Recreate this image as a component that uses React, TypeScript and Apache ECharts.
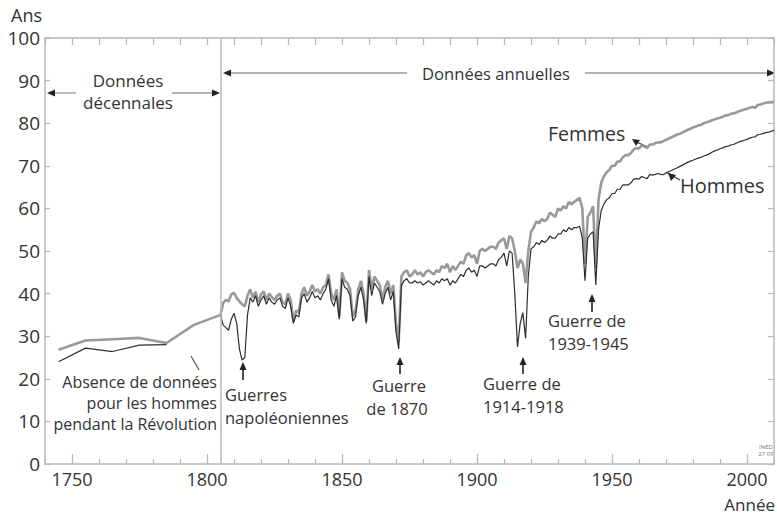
import React, { useEffect, useRef } from "react";
import * as echarts from "echarts";

const FONT = "'Open Sans', sans-serif";
const TXT = "#333";
const AXIS = "#b8b8b8";

// Decennial data (centre of each decade)
const decadeYears = [1745, 1755, 1765, 1775, 1785, 1795, 1805];
const femmesDecennial = [26.8, 29.0, 29.3, 29.6, 28.4, 32.6, 35.0];
const hommesDecennial = [24.0, 27.2, 26.4, 27.9, 28.0, null, 35.0];

// Annual data from 1806
const annualStart = 1806;
const femmesAnnual = [
  37.8, 38.5, 38.2, 39.8, 40.2, 39.0, 38.2, 37.5, 37.0, 39.5,
  41.0, 39.0, 40.5, 38.0, 39.8, 40.5, 38.5, 40.0, 39.2, 38.5,
  39.5, 40.0, 38.0, 37.5, 40.0, 38.5, 33.5, 36.0, 35.5, 40.0,
  41.5, 39.5, 40.5, 42.0, 40.5, 41.0, 40.0, 41.5, 42.0, 44.5,
  40.0, 38.5, 41.0, 34.5, 45.0, 43.0, 42.5, 41.0, 34.5, 36.0,
  41.0, 43.0, 40.0, 33.5, 45.5, 41.0, 44.0, 43.0, 42.0, 38.5,
  41.5, 43.0, 40.0, 42.0, 33.0, 28.5, 44.0, 45.0, 45.5, 44.0,
  44.5, 45.5, 44.5, 45.0, 44.0, 45.0, 45.5, 45.0, 44.5, 45.5,
  45.0, 46.5, 46.0, 47.0, 45.0, 46.5, 45.5, 46.5, 47.5, 47.0,
  49.0, 49.5, 48.5, 49.0, 47.0, 50.0, 50.5, 50.0, 50.5, 51.0,
  51.0, 50.5, 52.0, 52.5, 53.0, 50.5, 53.5, 53.0, 50.0, 46.0,
  48.0, 47.0, 42.5, 50.0, 54.5, 55.5, 57.0, 56.5, 57.5, 57.0,
  57.5, 59.0, 58.5, 58.0, 60.0, 59.5, 60.5, 60.0, 61.5, 61.0,
  61.5, 62.0, 62.5, 60.0, 47.0, 58.0, 59.0, 60.5, 46.0, 62.0,
  66.0, 67.5, 68.5, 69.0, 70.0, 70.0, 71.0, 71.0, 72.0, 72.5,
  72.5, 73.0, 73.8, 74.2, 74.0, 74.8, 74.5, 74.2, 75.0, 75.0,
  75.3, 75.5, 75.5, 75.8, 76.1, 76.4, 76.7, 77.0, 77.3, 77.5,
  77.8, 78.1, 78.4, 78.7, 79.0, 79.2, 79.5, 79.6, 80.0, 80.2,
  80.4, 80.7, 80.9, 81.1, 81.3, 81.5, 81.8, 81.9, 82.2, 82.3,
  82.5, 82.8, 83.0, 83.2, 83.4, 83.6, 83.8, 83.6, 84.3, 84.4,
  84.6, 84.8, 84.9, 84.9, 85.0,
];
const hommesAnnual = [
  32.6, 32.0, 31.4, 34.0, 35.4, 33.0, 27.0, 24.4, 25.0, 35.0,
  39.0, 38.0, 39.5, 37.0, 38.5, 39.5, 37.5, 39.0, 38.0, 37.5,
  38.5, 39.0, 37.0, 36.5, 39.0, 37.0, 33.0, 35.0, 34.5, 39.0,
  40.0, 38.0, 39.0, 40.5, 39.0, 39.5, 38.5, 40.0, 41.0, 43.5,
  38.5, 37.0, 39.5, 34.0, 43.5, 41.5, 41.0, 39.5, 33.5, 34.5,
  39.5, 41.5, 38.5, 33.0, 44.0, 39.5, 42.5, 41.5, 40.5, 37.5,
  40.0, 41.5, 38.5, 40.5, 31.0, 27.0, 42.0, 43.0, 43.5, 42.5,
  42.5, 43.0, 42.5, 42.8, 42.0, 42.5, 43.0, 42.5, 42.0, 43.0,
  42.5, 43.5, 43.0, 43.5, 42.0, 43.0, 42.5, 43.5, 44.5, 44.0,
  45.5, 46.0, 45.0, 45.5, 44.0, 46.5, 46.5, 46.0, 46.5, 47.0,
  47.0, 46.5, 48.0, 48.5, 49.5, 46.5, 50.0, 49.5, 40.0, 27.5,
  33.0, 35.5, 29.5, 44.0, 50.5, 51.0, 52.0, 51.5, 52.5, 52.0,
  52.5, 53.5, 53.0, 53.0, 54.0, 54.0, 55.0, 54.5, 55.5, 55.0,
  55.5, 55.5, 55.8, 53.0, 43.0, 53.0, 54.0, 54.5, 42.0, 55.0,
  59.5, 61.0, 62.0, 62.5, 63.5, 63.5, 64.5, 64.5, 65.5, 65.5,
  65.5, 66.0, 66.8, 67.0, 66.9, 67.5, 67.2, 67.0, 68.0, 67.8,
  68.0, 68.2, 68.0, 67.9, 68.3, 68.6, 68.9, 69.2, 69.5, 69.8,
  70.1, 70.5, 70.8, 71.1, 71.3, 71.6, 71.8, 72.0, 72.3, 72.5,
  72.8, 73.2, 73.5, 73.7, 74.0, 74.2, 74.5, 74.6, 74.9, 75.0,
  75.3, 75.6, 75.8, 76.0, 76.2, 76.5, 76.7, 76.8, 77.3, 77.4,
  77.6, 77.8, 77.9, 78.1, 78.3,
];

const xLabelYears = [1750, 1800, 1850, 1900, 1950, 2000];
const separatorYear = 1805;

function buildSeries(decennial: (number | null)[], annual: number[]) {
  const pts: [number, number | null][] = decadeYears.map((y, i) => [y, decennial[i]]);
  annual.forEach((v, i) => pts.push([annualStart + i, v]));
  return pts;
}

function txt(text: string, x: number, y: number, size: number, align = "left", color = TXT) {
  return {
    type: "text",
    x,
    y,
    silent: true,
    style: { text, fill: color, font: `${size}px ${FONT}`, textAlign: align, textVerticalAlign: "middle" },
  };
}
function hline(x1: number, x2: number, y: number, color = "#9a9a9a", w = 1.3) {
  return { type: "line", silent: true, shape: { x1, y1: y, x2, y2: y }, style: { stroke: color, lineWidth: w } };
}
function seg(x1: number, y1: number, x2: number, y2: number, color = "#333", w = 1.3) {
  return { type: "line", silent: true, shape: { x1, y1, x2, y2 }, style: { stroke: color, lineWidth: w } };
}
function tri(points: number[][], color = "#222") {
  return { type: "polygon", silent: true, shape: { points }, style: { fill: color } };
}
function arrowLeft(x: number, y: number) {
  return tri([[x, y], [x + 8, y - 3.5], [x + 8, y + 3.5]]);
}
function arrowRight(x: number, y: number) {
  return tri([[x, y], [x - 8, y - 3.5], [x - 8, y + 3.5]]);
}
function arrowUp(x: number, yTop: number, yBottom: number) {
  return [tri([[x, yTop], [x - 3.5, yTop + 8], [x + 3.5, yTop + 8]]), seg(x, yTop + 6, x, yBottom, "#222", 1.6)];
}

const WAR = 16.5;

export default function App() {
  const ref = useRef<HTMLDivElement>(null);
  useEffect(() => {
    if (!ref.current) return;
    const chart = echarts.init(ref.current, null, { renderer: "svg" });
    const axisCommon = {
      type: "value",
      min: 1740,
      max: 2010,
      interval: 10,
      splitLine: { show: false },
      axisLine: { show: true, lineStyle: { color: AXIS, width: 1.5 } },
    };
    const option: any = {
      animation: false,
      backgroundColor: "#fff",
      grid: { left: 45, right: 3, top: 38, bottom: 52, containLabel: false },
      xAxis: [
        {
          ...axisCommon,
          position: "bottom",
          axisTick: { show: true, inside: true, length: 5, lineStyle: { color: AXIS, width: 1.2 } },
          axisLabel: {
            show: true,
            customValues: xLabelYears,
            formatter: (v: number) => String(v),
            fontSize: 18,
            color: TXT,
            fontFamily: FONT,
            margin: 6,
          },
        },
        {
          ...axisCommon,
          position: "bottom",
          axisLine: { show: false },
          axisTick: { show: true, inside: true, length: 10, customValues: xLabelYears, lineStyle: { color: AXIS, width: 1.2 } },
          axisLabel: { show: false },
        },
        {
          ...axisCommon,
          position: "top",
          axisTick: { show: true, inside: true, length: 7, lineStyle: { color: AXIS, width: 1.2 } },
          axisLabel: { show: false },
        },
      ],
      yAxis: [
        {
          type: "value",
          min: 0,
          max: 100,
          interval: 10,
          position: "left",
          splitLine: { show: false },
          axisLine: { show: true, lineStyle: { color: AXIS, width: 1.5 } },
          axisTick: { show: true, inside: true, length: 5, lineStyle: { color: AXIS, width: 1.2 } },
          axisLabel: { fontSize: 19, color: TXT, fontFamily: FONT, margin: 5 },
        },
        {
          type: "value",
          min: 0,
          max: 100,
          interval: 10,
          position: "right",
          splitLine: { show: false },
          axisLine: { show: true, lineStyle: { color: AXIS, width: 1.5 } },
          axisTick: { show: true, inside: true, length: 6, lineStyle: { color: AXIS, width: 1.2 } },
          axisLabel: { show: false },
        },
      ],
      series: [
        {
          name: "Femmes",
          type: "line",
          xAxisIndex: 0,
          yAxisIndex: 0,
          showSymbol: false,
          symbol: "none",
          connectNulls: false,
          data: buildSeries(femmesDecennial, femmesAnnual),
          lineStyle: { color: "#999999", width: 2.6 },
          z: 2,
          markLine: {
            silent: true,
            symbol: ["none", "none"],
            label: { show: false },
            lineStyle: { color: AXIS, width: 1.5, type: "solid" },
            data: [{ xAxis: separatorYear }],
          },
        },
        {
          name: "Hommes",
          type: "line",
          xAxisIndex: 0,
          yAxisIndex: 0,
          showSymbol: false,
          symbol: "none",
          connectNulls: false,
          data: buildSeries(hommesDecennial, hommesAnnual),
          lineStyle: { color: "#2e2e2e", width: 1.2 },
          z: 3,
        },
      ],
      graphic: [
        txt("Ans", 11, 15, 18),
        txt("Année", 775, 504, 17, "right"),
        // Données décennales
        txt("Données", 128, 80, 17, "center"),
        txt("décennales", 128, 102, 17, "center"),
        hline(50, 76, 93),
        hline(172, 216, 93),
        arrowLeft(47, 93),
        arrowRight(220, 93),
        // Données annuelles
        txt("Données annuelles", 496, 73, 16.6, "center"),
        hline(226, 407, 73),
        hline(585, 770, 73),
        arrowLeft(223, 73),
        arrowRight(775, 73),
        // Femmes / Hommes
        txt("Femmes", 548, 133, 19.5),
        seg(634, 141, 648, 147, "#333", 1.2),
        tri([[632, 139], [640, 140], [636, 146]]),
        txt("Hommes", 680, 185, 20),
        seg(666, 172, 680, 180, "#333", 1.2),
        tri([[668, 173], [676, 175], [671, 181]]),
        // Absence de données
        txt("Absence de données", 217, 382, 16, "right"),
        txt("pour les hommes", 217, 403, 16, "right"),
        txt("pendant la Révolution", 217, 424, 16, "right"),
        seg(191, 356, 199, 370, "#555", 1.2),
        // Guerres napoléoniennes
        ...arrowUp(243, 362, 380),
        txt("Guerres", 225, 394, WAR),
        txt("napoléoniennes", 225, 417, WAR),
        // 1870
        ...arrowUp(400, 357, 374),
        txt("Guerre", 399, 385, WAR, "center"),
        txt("de 1870", 397, 408, WAR, "center"),
        // 1914-1918
        ...arrowUp(523, 357, 374),
        txt("Guerre de", 483, 383, WAR),
        txt("1914-1918", 483, 406, WAR),
        // 1939-1945
        ...arrowUp(592, 294, 312),
        txt("Guerre de", 548, 320, WAR),
        txt("1939-1945", 548, 343, WAR),
        // source mark
        txt("INED", 766, 447, 6, "center", "#777"),
        txt("27 09", 766, 454, 6, "center", "#777"),
      ],
    };
    chart.setOption(option);
    return () => chart.dispose();
  }, []);
  return (
    <div
      ref={ref}
      style={{ position: "fixed", left: 0, top: 0, width: 777, height: 516, background: "#fff" }}
    />
  );
}
